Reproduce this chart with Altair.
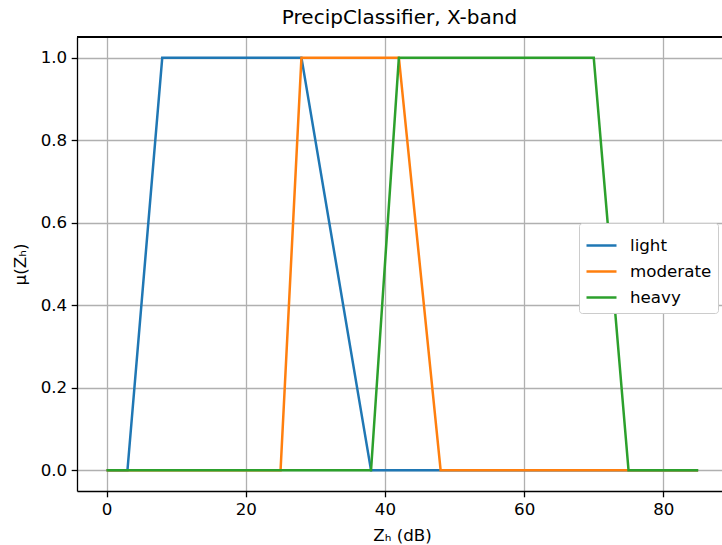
import altair as alt
import pandas as pd

series_names = ["light", "moderate", "heavy"]
light_x = [0, 3, 8, 28, 38, 85]
light_y = [0, 0, 1, 1, 0, 0]
moderate_x = [0, 25, 28, 42, 48, 85]
moderate_y = [0, 0, 1, 1, 0, 0]
heavy_x = [0, 38, 42, 70, 75, 85]
heavy_y = [0, 0, 1, 1, 0, 0]
colors = ["#1f77b4", "#ff7f0e", "#2ca02c"]
x_ticks = [0, 20, 40, 60, 80]
y_ticks = [0.0, 0.2, 0.4, 0.6, 0.8, 1.0]

rows = []
for name, xs, ys in zip(series_names, [light_x, moderate_x, heavy_x], [light_y, moderate_y, heavy_y]):
    for i, (x, y) in enumerate(zip(xs, ys)):
        rows.append({"series": name, "zh": x, "mu": y, "i": i})
df = pd.DataFrame(rows)

W, H = 645, 454
FONT = "DejaVu Sans"

xscale = alt.Scale(domain=[-4.25, 88.43], nice=False, zero=False)
yscale = alt.Scale(domain=[-0.05, 1.05], nice=False, zero=False)
cscale = alt.Scale(domain=series_names, range=colors)

xaxis = alt.Axis(values=x_ticks, format="d", title="Zₕ (dB)", grid=True,
                 titleX=325, titleY=44, titleBaseline="middle", titleAlign="center")
yaxis = alt.Axis(values=y_ticks, format=".1f", title="μ(Zₕ)", grid=True,
                 titleX=-57, titleY=227, titleAngle=270, titleBaseline="middle",
                 titleAlign="center")
legend = alt.Legend(title=None, orient="none", legendX=502, legendY=186,
                    symbolType="stroke", symbolSize=900,
                    symbolStrokeWidth=2.5, labelFontSize=16.7,
                    labelFont=FONT, labelOffset=12, rowPadding=-6,
                    padding=6, fillColor="white", strokeColor="#cccccc",
                    cornerRadius=3)

layers = []
for name in series_names:
    layers.append(
        alt.Chart(df).transform_filter(alt.datum.series == name).mark_line(
            strokeWidth=2.5, clip=True
        ).encode(
            x=alt.X("zh:Q", scale=xscale, axis=xaxis),
            y=alt.Y("mu:Q", scale=yscale, axis=yaxis),
            order="i:Q",
            color=alt.Color("series:N", scale=cscale, sort=series_names, legend=legend),
        )
    )

top_border = alt.Chart(df).mark_rule(color="black", strokeWidth=1.3).encode(
    x=alt.value(0), x2=alt.value(W), y=alt.value(0)
)

chart = alt.layer(*layers, top_border).properties(
    width=W, height=H,
    title=alt.TitleParams("PrecipClassifier, X-band", font=FONT, fontSize=20,
                          fontWeight="normal", anchor="middle", offset=8, color="black"),
    autosize=alt.AutoSizeParams(type="none"),
    padding={"left": 77, "top": 37, "right": 0, "bottom": 54},
    background="white",
).configure_view(stroke=None).configure_axis(
    labelFont=FONT, labelFontSize=16.7, labelColor="black", titleFont=FONT,
    titleFontSize=16.7, titleFontWeight="normal", titleColor="black",
    domainColor="black", domainWidth=1.3, tickColor="black", tickWidth=1.3,
    tickSize=5.8, labelPadding=4.5, gridColor="#b0b0b0", gridWidth=1.3,
)

chart.save("out.html", embed_options={"renderer": "svg", "actions": False})
